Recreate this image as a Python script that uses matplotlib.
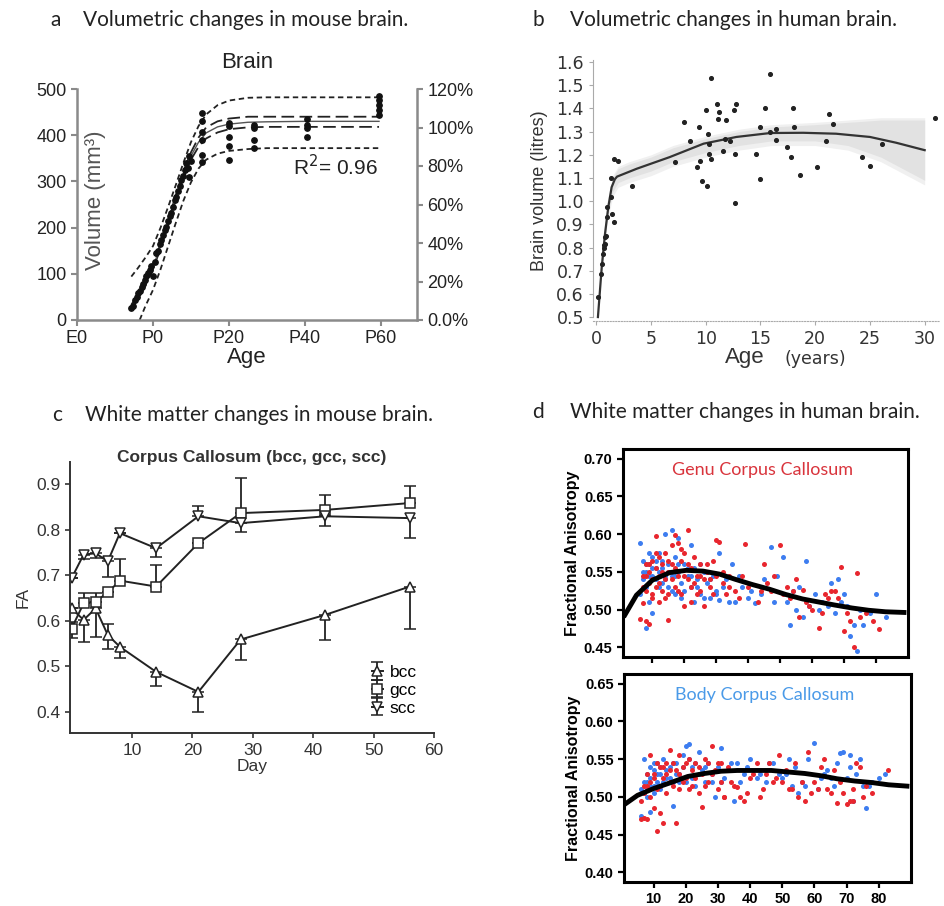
import numpy as np
import matplotlib.pyplot as plt

W, H = 944, 906
ARIAL = 'Liberation Sans'
CAL = 'Lato'

# ---- panel a: mouse brain volume ----
a_days = [-5.7, -5.2, -4.8, -4.3, -3.9, -3.5, -3.0, -2.6, -2.2, -1.8, -1.3, -0.9, -0.4, 0.0,
          0.5, 0.9, 1.4, 1.8, 2.2, 2.7, 3.1, 3.5, 4.0, 4.4, 4.8, 5.3, 5.7, 6.1, 6.6, 7.0,
          7.4, 7.8, 8.3, 8.7, 9.1, 9.6, 9.6, 10.0,
          13, 13, 13, 13, 13, 13,
          20, 20, 20, 20, 20,
          26.5, 26.5, 26.5, 26.5,
          40.5, 40.5, 40.5, 40.5,
          59.5, 59.5, 59.5, 59.5, 59.5]
a_vol = [25, 30, 43, 50, 58, 62, 72, 78, 87, 95, 101, 108, 116, 95,
         125, 145, 150, 165, 173, 185, 195, 202, 215, 225, 231, 245, 260, 267, 280, 290,
         303, 312, 325, 340, 330, 354, 310, 345,
         448, 430, 408, 390, 358, 343,
         426, 419, 397, 376, 347,
         423, 415, 390, 372,
         434, 423, 416, 397,
         484, 477, 466, 455, 444]

fit_days = [-5.7, -4, -2, 0, 2, 4, 6, 8, 10, 12, 14, 17, 20, 25, 30, 40, 50, 59.5]
fit_mid = [28, 50, 80, 115, 160, 210, 265, 315, 355, 385, 405, 418, 424, 428, 429, 430, 430, 430]
ci_up = [33, 55, 85, 120, 165, 215, 270, 322, 363, 395, 417, 430, 436, 440, 440, 440, 440, 440]
ci_lo = [23, 45, 75, 110, 155, 205, 260, 308, 347, 375, 393, 406, 413, 417, 418, 418, 418, 418]
pi_up = [94, 112, 135, 160, 200, 245, 292, 340, 385, 420, 445, 465, 475, 481, 482, 482, 482, 482]
lo_days = [-3.5, -2, 0, 2, 4, 6, 8, 10, 12, 14, 17, 20, 25, 30, 40, 50, 59.5]
pi_lo = [0, 30, 65, 110, 160, 210, 258, 298, 328, 347, 360, 366, 370, 372, 372, 372, 372]

# ---- panel b: human brain volume ----
b_age = [0.2, 0.4, 0.5, 0.6, 0.67, 0.72, 0.76, 0.8, 0.9, 0.97, 1.0, 1.3, 1.43, 1.6, 1.3, 1.6, 1.95,
         3.3, 7.2, 8.0, 8.6, 9.4, 9.2, 9.5, 9.7, 10.0, 10.1, 10.2, 10.3, 10.3, 10.5, 10.5,
         11.0, 11.1, 11.25, 11.6, 11.8, 11.85, 12.2, 12.6, 12.8, 12.7, 12.7, 14.6, 15.0, 15.0,
         15.4, 15.9, 15.9, 16.4, 16.4, 17.4, 17.8, 18.0, 18.1, 18.6, 20.2, 21.0, 21.3, 21.6,
         24.3, 25.0, 26.1, 30.9]
b_vol = [0.586, 0.687, 0.73, 0.773, 0.80, 0.81, 0.816, 0.845, 0.85, 0.93, 0.975, 1.018, 0.946, 0.91,
         1.10, 1.183, 1.173, 1.065, 1.17, 1.34, 1.26, 1.32, 1.147, 1.175, 1.088, 1.394, 1.067,
         1.29, 1.245, 1.205, 1.532, 1.18, 1.42, 1.355, 1.384, 1.216, 1.27, 1.35, 1.26, 1.394,
         1.42, 1.205, 0.992, 1.205, 1.094, 1.322, 1.403, 1.55, 1.298, 1.312, 1.262, 1.233, 1.19,
         1.403, 1.32, 1.111, 1.147, 1.259, 1.377, 1.331, 1.19, 1.151, 1.245, 1.36]
b_fit_age = [0.15, 0.5, 0.8, 1.1, 1.4, 1.7, 1.9, 3.7, 6.7, 9.8, 12.8, 15.9, 18.9, 21.9, 25.0, 27.4, 30.0]
b_fit_vol = [0.50, 0.716, 0.86, 0.975, 1.06, 1.095, 1.106, 1.14, 1.19, 1.248, 1.277, 1.294, 1.295,
             1.291, 1.277, 1.252, 1.22]
band_age = [0.5, 1.0, 1.5, 2.0, 3.0, 5.0, 7.0, 10, 13, 16, 20, 23, 26, 28, 30]
band_hi = [0.78, 0.99, 1.10, 1.14, 1.16, 1.19, 1.23, 1.27, 1.30, 1.32, 1.33, 1.34, 1.35, 1.35, 1.35]
band_lo = [0.70, 0.93, 1.04, 1.08, 1.10, 1.13, 1.17, 1.21, 1.24, 1.26, 1.26, 1.24, 1.19, 1.14, 1.09]

# ---- panel c: mouse FA ----
c_day = [0, 2, 4, 6, 8, 14, 21, 28, 42, 56]
bcc = [0.627, 0.602, 0.627, 0.569, 0.543, 0.488, 0.444, 0.559, 0.613, 0.675]
bcc_lo = [0.0, 0.048, 0.062, 0.030, 0.025, 0.030, 0.044, 0.045, 0.055, 0.093]
bcc_hi = [0.0, 0.0, 0.0, 0.025, 0.0, 0.0, 0.0, 0.0, 0.0, 0.0]
gcc = [0.583, 0.638, 0.642, 0.662, 0.688, 0.675, 0.770, 0.836, 0.843, 0.858]
gcc_lo = [0.02, 0.0, 0.0, 0.0, 0.0, 0.0, 0.0, 0.0, 0.0, 0.0]
gcc_hi = [0.015, 0.022, 0.018, 0.0, 0.048, 0.047, 0.0, 0.077, 0.033, 0.038]
scc = [0.693, 0.745, 0.748, 0.730, 0.792, 0.759, 0.829, 0.814, 0.829, 0.825]
scc_lo = [0.0, 0.01, 0.01, 0.033, 0.0, 0.019, 0.0, 0.020, 0.022, 0.044]
scc_hi = [0.0, 0.0, 0.0, 0.0, 0.0, 0.0, 0.023, 0.0, 0.0, 0.0]

# ---- panel d: human FA ----
fitd_age = [1.0, 5.0, 10, 15.4, 20.6, 25.8, 31, 36, 41.4, 46.6, 51.7, 57, 62, 67, 72.5, 77.7, 83, 89.5]
genu_fit = [0.490, 0.519, 0.539, 0.549, 0.552, 0.551, 0.547, 0.540, 0.533, 0.527, 0.520, 0.514,
            0.510, 0.506, 0.502, 0.499, 0.497, 0.496]
body_fit = [0.490, 0.502, 0.511, 0.519, 0.527, 0.531, 0.534, 0.535, 0.535, 0.535, 0.533, 0.531,
            0.528, 0.524, 0.521, 0.519, 0.516, 0.514]

genu_red_age = [6, 7, 7, 8, 8, 8, 9, 9, 9, 10, 10, 10, 11, 11, 11, 12, 12, 12, 13, 13, 14, 14, 15, 15,
                15, 16, 16, 17, 17, 18, 18, 19, 19, 20, 20, 21, 21, 22, 22, 23, 24, 25, 25, 26, 27, 28,
                29, 30, 30, 31, 32, 33, 34, 36, 37, 39, 40, 43, 45, 47, 48, 50, 51, 53, 55, 56, 57, 58,
                60, 62, 64, 66, 68, 69, 70, 71, 72, 73, 74, 75, 77, 79, 81,
                7, 8, 9, 10, 11, 12, 13, 14, 15, 16, 17, 18, 19, 20, 21, 22, 23, 24, 25, 26,
                27, 28, 29, 32, 34, 38, 44, 46, 52, 54, 59, 63, 65, 67]
genu_red_fa = [0.487, 0.508, 0.545, 0.485, 0.525, 0.560, 0.481, 0.535, 0.550, 0.515, 0.540, 0.565,
               0.597, 0.530, 0.555, 0.510, 0.545, 0.570, 0.525, 0.560, 0.540, 0.575, 0.486, 0.520,
               0.550, 0.586, 0.560, 0.599, 0.530, 0.588, 0.545, 0.520, 0.565, 0.505, 0.575, 0.606,
               0.540, 0.510, 0.555, 0.535, 0.545, 0.525, 0.560, 0.540, 0.550, 0.530, 0.565, 0.592,
               0.545, 0.590, 0.535, 0.520, 0.545, 0.525, 0.515, 0.587, 0.530, 0.510, 0.560, 0.525,
               0.545, 0.586, 0.520, 0.515, 0.540, 0.490, 0.526, 0.510, 0.500, 0.475, 0.520, 0.525,
               0.515, 0.557, 0.472, 0.495, 0.485, 0.450, 0.549, 0.490, 0.495, 0.485, 0.474,
               0.530, 0.545, 0.560, 0.520, 0.575, 0.535, 0.550, 0.515, 0.565, 0.540,
               0.555, 0.525, 0.580, 0.545, 0.560, 0.530, 0.570, 0.520, 0.545, 0.505,
               0.560, 0.540, 0.520, 0.550, 0.530, 0.545, 0.525, 0.535, 0.530, 0.525,
               0.505, 0.495, 0.515, 0.525]
genu_blue_age = [6, 6, 7, 7, 8, 8, 8, 9, 9, 9, 10, 10, 10, 11, 11, 12, 12, 13, 13, 14, 14, 15, 15, 16,
                 16, 17, 17, 18, 18, 19, 20, 20, 21, 22, 22, 23, 23, 24, 25, 26, 27, 28, 29, 30, 31,
                 31, 33, 35, 36, 38, 40, 42, 45, 47, 49, 51, 52, 53, 55, 56, 58, 59, 61, 63, 66, 67,
                 68, 70, 71, 72, 73, 74, 76, 78, 80, 83,
                 7, 8, 9, 10, 11, 12, 13, 14, 15, 16, 17, 18, 19, 21, 22, 24, 25, 26, 27, 28,
                 30, 32, 34, 37, 41, 44, 48, 54, 57, 62, 65, 69, 75]
genu_blue_fa = [0.588, 0.520, 0.540, 0.565, 0.475, 0.550, 0.530, 0.560, 0.545, 0.510, 0.570, 0.555,
                0.495, 0.540, 0.565, 0.550, 0.575, 0.535, 0.555, 0.600, 0.545, 0.530, 0.560, 0.606,
                0.545, 0.520, 0.570, 0.550, 0.595, 0.535, 0.560, 0.525, 0.545, 0.585, 0.530, 0.510,
                0.555, 0.540, 0.520, 0.550, 0.535, 0.515, 0.545, 0.525, 0.575, 0.512, 0.540, 0.560,
                0.510, 0.530, 0.515, 0.508, 0.540, 0.583, 0.545, 0.570, 0.510, 0.480, 0.500, 0.530,
                0.565, 0.505, 0.520, 0.510, 0.535, 0.495, 0.540, 0.520, 0.505, 0.465, 0.480, 0.445,
                0.480, 0.495, 0.520, 0.490,
                0.550, 0.560, 0.575, 0.545, 0.555, 0.530, 0.565, 0.540, 0.550, 0.525,
                0.545, 0.560, 0.515, 0.555, 0.545, 0.530, 0.560, 0.515, 0.550, 0.540,
                0.520, 0.530, 0.510, 0.545, 0.525, 0.520, 0.510, 0.525, 0.490, 0.500,
                0.505, 0.510, 0.500]

body_red_age = [6, 6, 7, 7, 8, 8, 9, 9, 10, 10, 11, 11, 12, 12, 13, 13, 14, 14, 15, 15, 16, 17, 17, 18,
                18, 19, 20, 21, 22, 23, 24, 25, 25, 26, 27, 28, 29, 30, 31, 32, 33, 34, 36, 38, 39, 40,
                42, 43, 45, 47, 49, 50, 51, 53, 54, 56, 57, 58, 59, 61, 62, 64, 66, 67, 68, 69, 70, 71,
                72, 73, 74, 75, 78, 83,
                7, 8, 9, 10, 11, 12, 13, 14, 15, 16, 18, 19, 20, 21, 22, 23, 24, 26, 27, 28,
                30, 31, 32, 35, 37, 41, 44, 46, 48, 52, 55, 60, 63, 65, 72, 76]
body_red_fa = [0.470, 0.495, 0.472, 0.515, 0.470, 0.530, 0.555, 0.500, 0.485, 0.525, 0.455, 0.545,
               0.478, 0.515, 0.465, 0.540, 0.505, 0.530, 0.562, 0.520, 0.545, 0.465, 0.535, 0.555,
               0.510, 0.540, 0.525, 0.550, 0.515, 0.545, 0.505, 0.487, 0.530, 0.550, 0.520, 0.567,
               0.535, 0.510, 0.545, 0.500, 0.540, 0.520, 0.513, 0.495, 0.505, 0.525, 0.545, 0.500,
               0.530, 0.520, 0.555, 0.520, 0.535, 0.510, 0.545, 0.520, 0.495, 0.560, 0.505, 0.510,
               0.540, 0.510, 0.535, 0.492, 0.520, 0.505, 0.490, 0.495, 0.510, 0.545, 0.540, 0.500,
               0.505, 0.535,
               0.505, 0.515, 0.520, 0.530, 0.510, 0.540, 0.525, 0.545, 0.535, 0.515,
               0.530, 0.520, 0.545, 0.510, 0.535, 0.525, 0.540, 0.515, 0.545, 0.530,
               0.545, 0.520, 0.500, 0.515, 0.500, 0.530, 0.510, 0.545, 0.525, 0.510,
               0.500, 0.520, 0.550, 0.505, 0.495, 0.515]
body_blue_age = [6, 6, 7, 7, 8, 8, 9, 9, 9, 10, 10, 11, 11, 12, 12, 13, 14, 15, 16, 16, 17, 18, 19, 20,
                 20, 21, 22, 23, 24, 25, 26, 27, 28, 29, 30, 31, 31, 33, 35, 36, 38, 40, 42, 45, 47,
                 49, 50, 52, 53, 55, 56, 58, 60, 61, 62, 64, 66, 67, 68, 69, 70, 71, 72, 73, 74, 75,
                 76, 78, 80, 82,
                 7, 8, 8, 9, 10, 10, 11, 12, 13, 14, 15, 16, 17, 18, 19, 21, 22, 23, 24, 26,
                 28, 30, 32, 34, 37, 39, 43, 46, 51, 54, 57, 63, 65, 71, 77]
body_blue_fa = [0.475, 0.510, 0.550, 0.520, 0.500, 0.530, 0.480, 0.515, 0.540, 0.505, 0.535, 0.520,
                0.545, 0.510, 0.530, 0.550, 0.525, 0.540, 0.488, 0.520, 0.545, 0.530, 0.555, 0.568,
                0.520, 0.570, 0.540, 0.515, 0.560, 0.535, 0.520, 0.545, 0.530, 0.500, 0.540, 0.565,
                0.520, 0.535, 0.495, 0.545, 0.530, 0.550, 0.525, 0.520, 0.545, 0.530, 0.525, 0.550,
                0.515, 0.505, 0.520, 0.550, 0.572, 0.510, 0.525, 0.535, 0.515, 0.545, 0.558, 0.560,
                0.525, 0.540, 0.495, 0.530, 0.550, 0.515, 0.485, 0.520, 0.525, 0.530,
                0.505, 0.520, 0.510, 0.525, 0.515, 0.545, 0.530, 0.540, 0.520, 0.535,
                0.525, 0.545, 0.530, 0.520, 0.540, 0.550, 0.525, 0.545, 0.530, 0.540,
                0.520, 0.535, 0.525, 0.545, 0.520, 0.540, 0.530, 0.545, 0.530, 0.540,
                0.515, 0.530, 0.525, 0.555, 0.515]

RED = '#e8262e'
BLUE = '#3d7df0'


def box(l, t, r, b):
    return [l / W, 1 - b / H, (r - l) / W, (b - t) / H]


fig = plt.figure(figsize=(W / 100, H / 100), dpi=100)

# panel headings
heads = [(50, 20, 'a', 83, 'Volumetric changes in mouse brain.'),
         (532, 20, 'b', 570, 'Volumetric changes in human brain.'),
         (52, 415, 'c', 85, 'White matter changes in mouse brain.'),
         (532, 412, 'd', 570, 'White matter changes in human brain.')]
for lx, y, letter, tx, txt in heads:
    fig.text(lx / W, 1 - y / H, letter, family=CAL, fontsize=15, va='center', color='#222222')
    fig.text(tx / W, 1 - y / H, txt, family=CAL, fontsize=15, va='center', color='#222222')

# ---------------- a ----------------
gray = '#8a8a8a'
axa = fig.add_axes(box(77, 89, 417, 320))
axa.set_xlim(-20, 69.5)
axa.set_ylim(0, 500)
axa.plot(fit_days, pi_up, color='#222222', lw=1.3, dashes=(3, 2))
axa.plot(lo_days, pi_lo, color='#222222', lw=1.3, dashes=(3, 2))
axa.plot(fit_days, ci_up, color='#222222', lw=1.3, dashes=(7, 3))
axa.plot(fit_days, ci_lo, color='#222222', lw=1.3, dashes=(7, 3))
axa.plot(fit_days, fit_mid, color='#555555', lw=1.0)
axa.scatter(a_days, a_vol, s=15, color='#111111', zorder=3)
for s in ['top', 'right']:
    axa.spines[s].set_visible(False)
for s in ['left', 'bottom']:
    axa.spines[s].set_color(gray)
    axa.spines[s].set_linewidth(1.8)
axa.set_xticks([-20, 0, 20, 40, 60])
axa.set_xticklabels(['E0', 'P0', 'P20', 'P40', 'P60'])
axa.set_yticks([0, 100, 200, 300, 400, 500])
axa.tick_params(colors=gray, labelcolor='#222222', labelsize=13, width=1.5, length=4)
for lab in axa.get_xticklabels() + axa.get_yticklabels():
    lab.set_family(ARIAL)
axa.set_xlabel('Age', family=ARIAL, fontsize=16, color='#222222', labelpad=0)
axa.text(0.053, 0.52, 'Volume (mm³)', transform=axa.transAxes, rotation=90, ha='center',
         va='center', family=ARIAL, fontsize=16, color='#555555')
axa.text(0.5, 1.115, 'Brain', transform=axa.transAxes, ha='center', va='center',
         family=ARIAL, fontsize=16, color='#222222')
axa.text(0.885, 0.665, 'R$^2$= 0.96', transform=axa.transAxes, ha='right', va='center',
         family=ARIAL, fontsize=15, color='#222222')
axr = axa.twinx()
axr.set_ylim(0, 120)
axr.set_yticks([0, 20, 40, 60, 80, 100, 120])
axr.set_yticklabels(['0.0%', '20%', '40%', '60%', '80%', '100%', '120%'])
for s in ['top', 'left', 'bottom']:
    axr.spines[s].set_visible(False)
axr.spines['right'].set_color(gray)
axr.spines['right'].set_linewidth(1.8)
axr.tick_params(colors=gray, labelcolor='#222222', labelsize=13, width=1.5, length=4)
for lab in axr.get_yticklabels():
    lab.set_family(ARIAL)

# ---------------- b ----------------
axb = fig.add_axes(box(593, 60, 940, 321))
axb.set_xlim(-0.3, 31.4)
axb.set_ylim(0.483, 1.609)
axb.fill_between(band_age, np.array(band_lo) - 0.02, np.array(band_hi) + 0.01,
                 color='#f0f0f0', lw=0)
axb.fill_between(band_age, band_lo, band_hi, color='#e2e2e2', lw=0)
axb.plot(b_fit_age, b_fit_vol, color='#333333', lw=1.6)
axb.scatter(b_age, b_vol, s=7, color='#222222', zorder=3)
for s in ['top', 'right']:
    axb.spines[s].set_visible(False)
axb.spines['left'].set_color('#aaaaaa')
axb.spines['bottom'].set_color('#aaaaaa')
axb.spines['bottom'].set_linestyle((0, (1, 1.5)))
axb.spines['left'].set_bounds(0.5, 1.609)
axb.set_yticks(np.round(np.arange(0.5, 1.61, 0.1), 1))
axb.set_xticks([0, 5, 10, 15, 20, 25, 30])
axb.tick_params(colors='#aaaaaa', labelcolor='#333333', labelsize=12.5, length=3)
axb.set_ylabel('Brain volume (litres)', family=ARIAL, fontsize=13, color='#333333', labelpad=6)
fig.text(745 / W, 1 - 357 / H, 'Age', family=ARIAL, fontsize=16, color='#333333',
         ha='center', va='center')
fig.text(785 / W, 1 - 359 / H, '(years)', fontsize=12.5, color='#333333', va='center')

# ---------------- c ----------------
axc = fig.add_axes(box(70, 462, 434, 733))
axc.set_xlim(-0.25, 60)
axc.set_ylim(0.354, 0.948)
series = [(bcc, bcc_lo, bcc_hi, '^', 'bcc'),
          (gcc, gcc_lo, gcc_hi, 's', 'gcc'),
          (scc, scc_lo, scc_hi, 'v', 'scc')]
for vals, lo, hi, mk, lab in series:
    axc.errorbar(c_day, vals, yerr=[lo, hi], color='#222222', lw=1.4, marker=mk, ms=6.5,
                 mfc='white', mec='#222222', mew=1.1, capsize=4, elinewidth=1.3, capthick=1.3,
                 label=lab)
for s in ['top', 'right']:
    axc.spines[s].set_visible(False)
for s in ['left', 'bottom']:
    axc.spines[s].set_linewidth(1.4)
    axc.spines[s].set_color('#333333')
axc.set_xticks([10, 20, 30, 40, 50, 60])
axc.set_yticks([0.4, 0.5, 0.6, 0.7, 0.8, 0.9])
axc.tick_params(labelsize=12.5, colors='#333333', width=1.2)
for lab in axc.get_xticklabels() + axc.get_yticklabels():
    lab.set_family(ARIAL)
axc.set_xlabel('Day', family=ARIAL, fontsize=12.5, color='#333333', labelpad=1)
axc.set_ylabel('FA', family=ARIAL, fontsize=12.5, color='#333333', labelpad=4)
axc.text(0.5, 1.018, 'Corpus Callosum (bcc, gcc, scc)', transform=axc.transAxes, ha='center',
         va='center', family=ARIAL, fontsize=12.5, weight='bold', color='#333333')
axc.legend(loc='lower right', frameon=False, handlelength=0.6,
           handletextpad=0.4, labelspacing=0.15, borderaxespad=0.6,
           prop={'family': ARIAL, 'size': 12.5})

# ---------------- d ----------------
panels = [(box(623, 449, 908, 657), (0.437, 0.713), [0.45, 0.50, 0.55, 0.60, 0.65, 0.70],
           genu_red_age, genu_red_fa, genu_blue_age, genu_blue_fa, genu_fit,
           'Genu Corpus Callosum', '#d9343c', False),
          (box(624, 674, 911, 882), (0.387, 0.663), [0.40, 0.45, 0.50, 0.55, 0.60, 0.65],
           body_red_age, body_red_fa, body_blue_age, body_blue_fa, body_fit,
           'Body Corpus Callosum', '#4a9ae8', True)]
for pos, ylim, yt, ra, rf, ba, bf, fit, name, ncol, lab in panels:
    ax = fig.add_axes(pos)
    ax.set_xlim(0.8, 90)
    ax.set_ylim(*ylim)
    ax.scatter(ba, bf, s=13, color=BLUE, lw=0, zorder=2)
    ax.scatter(ra, rf, s=13, color=RED, lw=0, zorder=2)
    ax.plot(fitd_age, fit, color='black', lw=3.5, zorder=3, solid_capstyle='butt')
    for s in ax.spines.values():
        s.set_linewidth(2.2)
    ax.set_yticks(yt)
    ax.set_yticklabels(['%.2f' % v for v in yt])
    ax.set_xticks([10, 20, 30, 40, 50, 60, 70, 80])
    if not lab:
        ax.set_xticklabels([])
    ax.tick_params(labelsize=10.5, width=1.6, length=4)
    for t in ax.get_xticklabels() + ax.get_yticklabels():
        t.set_family(ARIAL)
        t.set_weight('bold')
    ax.set_ylabel('Fractional Anisotropy', family=ARIAL, weight='bold', fontsize=11.5,
                  labelpad=3)
    ax.text(0.49, 0.9, name, transform=ax.transAxes, ha='center', va='center', family=CAL,
            fontsize=13, color=ncol)

fig.savefig('out.png', dpi=100)
